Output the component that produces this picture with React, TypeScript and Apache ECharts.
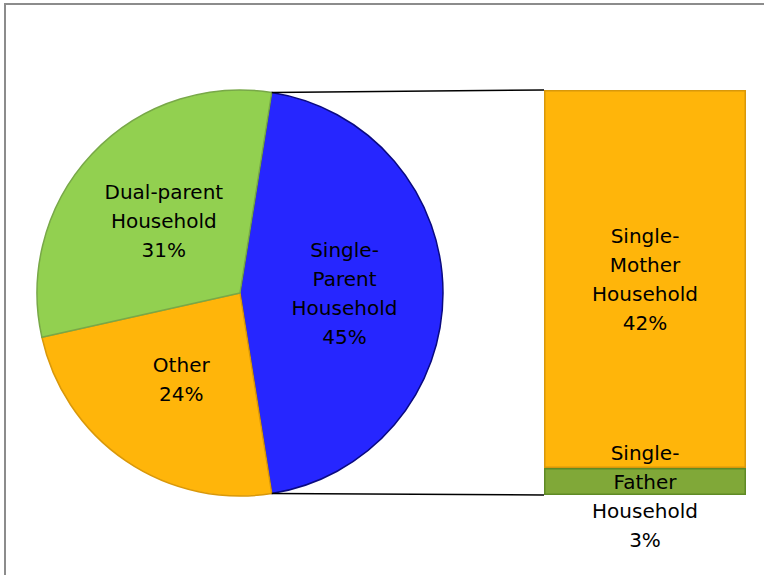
import React, { useEffect, useRef } from "react";
import * as echarts from "echarts";

const pieNames = ["Single-\nParent\nHousehold", "Other", "Dual-parent\nHousehold"];
const pieValues = [45, 24, 31];
const pieColors = ["#2626FF", "#FFB50A", "#92D050"];
const pieBorders = ["#0A0A80", "#D9980A", "#78A848"];

const barCategories = ["Single-Parent"];
const barNames = ["Single-\nFather\nHousehold", "Single-\nMother\nHousehold"];
const barValues = [3, 42];
const barColors = ["#80A838", "#FFB50A"];
const barBorders = ["#5F8A25", "#D9980A"];

const FONT = "DejaVu Sans";

export default function App() {
  const ref = useRef<HTMLDivElement>(null);
  useEffect(() => {
    if (!ref.current) return;
    const chart = echarts.init(ref.current, null, { renderer: "svg" });
    const cx = 240, cy = 293, r = 203;
    const total = pieValues.reduce((a, b) => a + b, 0);
    const half = (pieValues[0] / total) * 180;
    const barTotal = barValues.reduce((a, b) => a + b, 0);
    const gridLeft = 544, gridTop = 90, gridW = 202, gridH = 405;

    const labelStyle = {
      color: "#000",
      fontSize: 20,
      fontFamily: FONT,
      lineHeight: 29,
    };

    chart.setOption({
      animation: false,
      backgroundColor: "#fff",
      grid: { left: gridLeft, top: gridTop, width: gridW, height: gridH },
      xAxis: { type: "category", data: barCategories, show: false },
      yAxis: { type: "value", min: 0, max: barTotal, show: false },
      series: [
        {
          type: "pie",
          center: [cx, cy],
          radius: [0, r],
          startAngle: half,
          clockwise: true,
          data: pieValues.map((v, i) => ({
            name: pieNames[i],
            value: v,
            itemStyle: { color: pieColors[i], borderColor: pieBorders[i], borderWidth: 1.5 },
          })),
          label: {
            show: true,
            position: "inside",
            formatter: (p: any) => `${p.name}\n${Math.round(p.percent)}%`,
            ...labelStyle,
          },
          labelLine: { show: false },
          emphasis: { disabled: true },
        },
        ...barValues.map((v, i) => ({
          type: "bar",
          stack: "s",
          barWidth: "100%",
          data: [v],
          name: barNames[i],
          itemStyle: { color: barColors[i], borderColor: barBorders[i], borderWidth: 1.5 },
          label: {
            show: true,
            position: "inside",
            offset: i === 0 ? [0, 15] : [0, 0],
            formatter: () => `${barNames[i]}\n${v}%`,
            ...labelStyle,
          },
          z: i === 0 ? 3 : 2,
          emphasis: { disabled: true },
        })),
      ],
    });

    const a = (half * Math.PI) / 180;
    const topPt = [cx + r * Math.cos(a), cy - r * Math.sin(a)];
    const botPt = [cx + r * Math.cos(a), cy + r * Math.sin(a)];
    const barTop = chart.convertToPixel({ gridIndex: 0 }, [0, barTotal]) as number[];
    const barBot = chart.convertToPixel({ gridIndex: 0 }, [0, 0]) as number[];

    chart.setOption({
      graphic: [
        {
          type: "rect",
          shape: { x: 5, y: 4, width: 800, height: 620 },
          style: { fill: "none", stroke: "#8C8C8C", lineWidth: 2 },
          z: 100,
        },
        {
          type: "line",
          shape: { x1: topPt[0], y1: topPt[1], x2: gridLeft, y2: barTop[1] },
          style: { stroke: "#000", lineWidth: 1.5 },
          z: 100,
        },
        {
          type: "line",
          shape: { x1: botPt[0], y1: botPt[1], x2: gridLeft, y2: barBot[1] },
          style: { stroke: "#000", lineWidth: 1.5 },
          z: 100,
        },
      ],
    });

    return () => chart.dispose();
  }, []);
  return (
    <div
      ref={ref}
      style={{ position: "absolute", left: 0, top: 0, width: 764, height: 575 }}
    />
  );
}
